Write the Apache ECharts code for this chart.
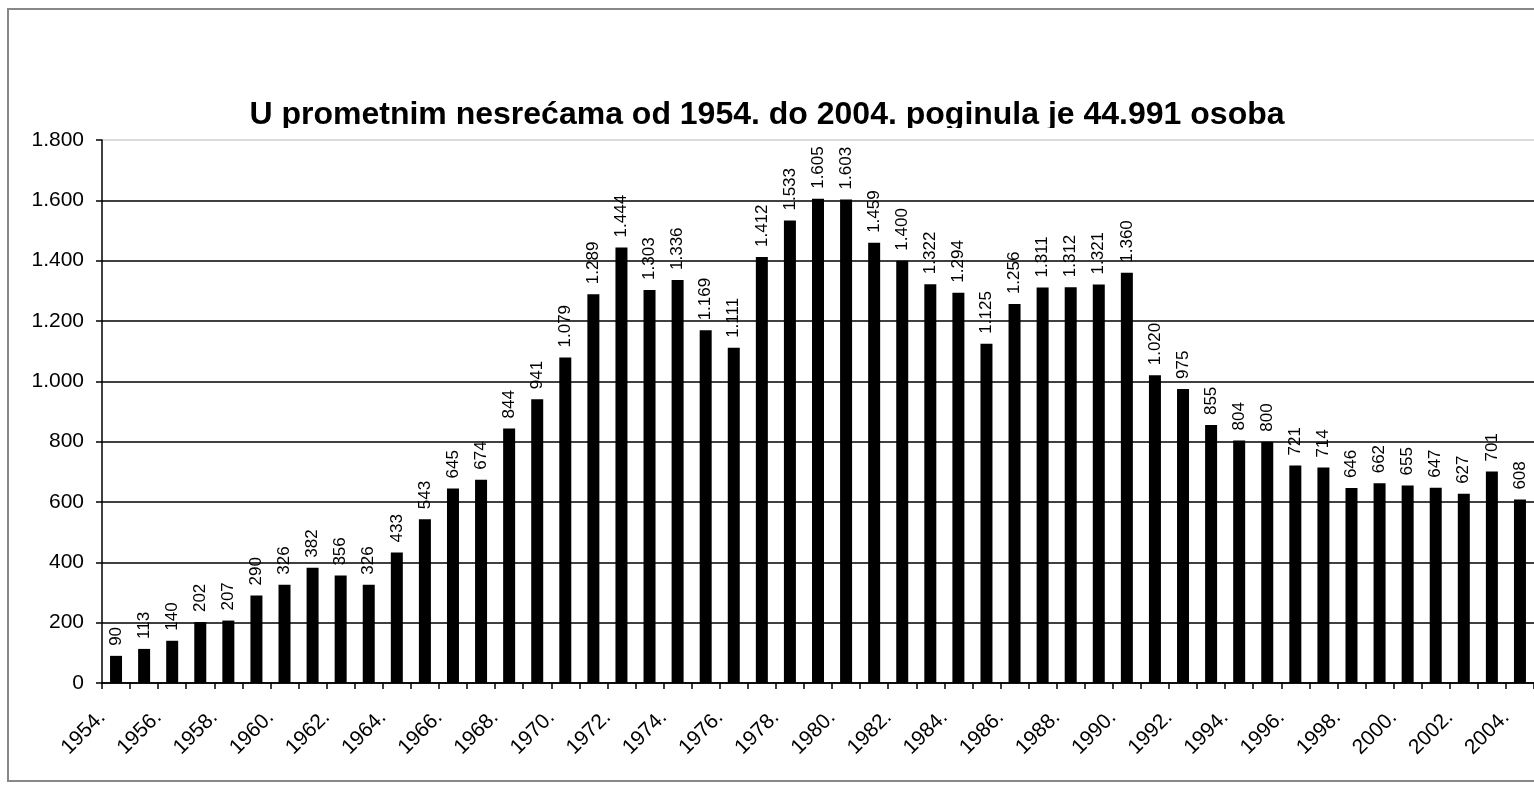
<!DOCTYPE html>
<html>
<head>
<meta charset="utf-8">
<script src="https://cdn.jsdelivr.net/npm/echarts@6/dist/echarts.min.js"></script>
<style>
html,body{margin:0;padding:0;background:#fff;}
#c{width:1534px;height:785px;}
</style>
</head>
<body>
<div id="c"></div>
<script>
const titleText = 'U prometnim nesrećama od 1954. do 2004. poginula je 44.991 osoba';
const years = ['1954.','1955.','1956.','1957.','1958.','1959.','1960.','1961.','1962.','1963.',
  '1964.','1965.','1966.','1967.','1968.','1969.','1970.','1971.','1972.','1973.',
  '1974.','1975.','1976.','1977.','1978.','1979.','1980.','1981.','1982.','1983.',
  '1984.','1985.','1986.','1987.','1988.','1989.','1990.','1991.','1992.','1993.',
  '1994.','1995.','1996.','1997.','1998.','1999.','2000.','2001.','2002.','2003.','2004.'];
const deaths = [90,113,140,202,207,290,326,382,356,326,
  433,543,645,674,844,941,1079,1289,1444,1303,
  1336,1169,1111,1412,1533,1605,1603,1459,1400,1322,
  1294,1125,1256,1311,1312,1321,1360,1020,975,855,
  804,800,721,714,646,662,655,647,627,701,
  608];
const yMin = 0, yMax = 1800, yStep = 200;

function fmt(v){
  return String(v).replace(/\B(?=(\d{3})+(?!\d))/g, '.');
}
const FONT = '"Liberation Sans", Arial, sans-serif';
const gridColors = [];
for (let v = yMin; v <= yMax; v += yStep) gridColors.push(v === yMax ? '#cfcfcf' : '#000');

const chart = echarts.init(document.getElementById('c'), null, {renderer:'canvas'});
chart.setOption({
  backgroundColor:'#fff',
  animation:false,
  title:{
    text:titleText, left:'center', top:94, z:1,
    textStyle:{fontFamily:FONT, fontSize:32, fontWeight:'bold', color:'#000'}
  },
  graphic:[{
    type:'rect', shape:{x:8, y:9, width:1560, height:772},
    style:{fill:'none', stroke:'#888', lineWidth:2}, silent:true, z:-1
  },{
    type:'rect', shape:{x:200, y:128, width:1150, height:10},
    style:{fill:'#fff'}, silent:true, z:100
  }],
  grid:{left:102, top:140, width:1442, height:543, containLabel:false},
  xAxis:[{
    type:'category', data:years, boundaryGap:true,
    axisLine:{lineStyle:{color:'#000', width:1.5}},
    axisTick:{show:true, interval:0, length:6, lineStyle:{color:'#000', width:1.5}},
    axisLabel:{show:false},
    splitLine:{show:false}
  },{
    type:'category', data:years.concat(['']), boundaryGap:false, position:'bottom',
    axisLine:{show:false}, axisTick:{show:false}, splitLine:{show:false},
    axisLabel:{interval:1, rotate:45, margin:31, fontFamily:FONT, fontSize:21, color:'#000'}
  }],
  yAxis:{
    type:'value', min:yMin, max:yMax, interval:yStep,
    axisLine:{show:true, lineStyle:{color:'#000', width:1.5}},
    axisTick:{show:true, length:6, lineStyle:{color:'#000', width:1.5}},
    axisLabel:{margin:18, fontFamily:FONT, fontSize:21, color:'#000', formatter:fmt},
    splitLine:{show:true, lineStyle:{color:gridColors, width:1.5}}
  },
  series:[{
    type:'bar', data:deaths, xAxisIndex:0, barWidth:12,
    itemStyle:{color:'#000'},
    label:{show:true, position:'top', rotate:90, align:'left', verticalAlign:'middle',
      distance:10, fontFamily:FONT, fontSize:17, color:'#000', formatter:p=>fmt(p.value)}
  }]
});
</script>
</body>
</html>
